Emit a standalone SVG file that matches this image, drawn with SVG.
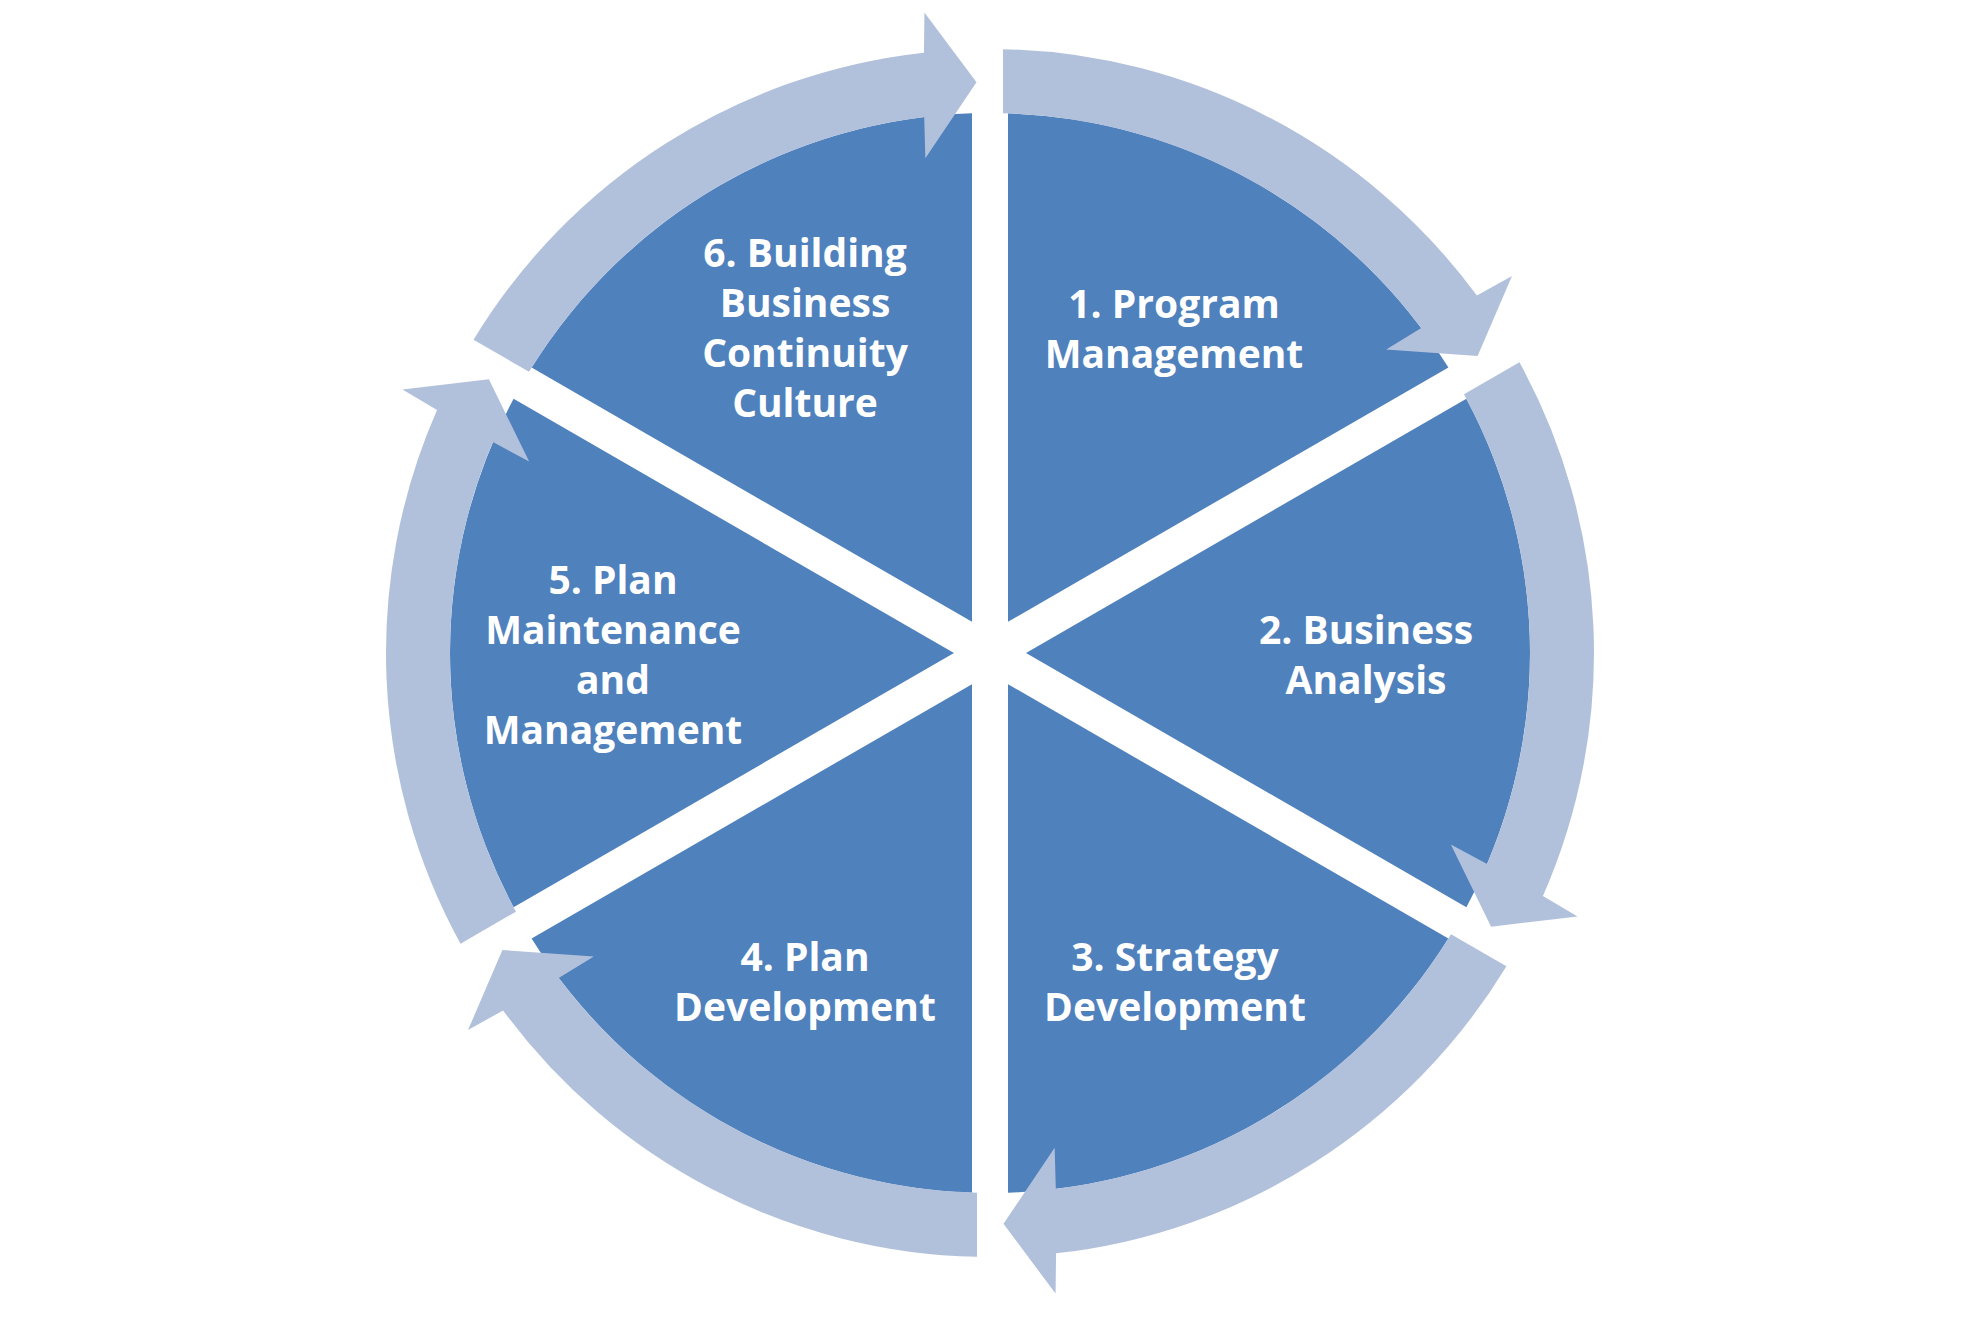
<svg xmlns="http://www.w3.org/2000/svg" xmlns:xlink="http://www.w3.org/1999/xlink" width="1980" height="1320" viewBox="0 0 1980 1320">
  <style>
    .sector { fill: #4F81BD; }
    .arrow { fill: #B2C1DB; }
    .label { fill: #FFFFFF; font-family: "Open Sans", "Liberation Sans", sans-serif; font-weight: bold; font-size: 39px; text-anchor: middle; }
  </style>
  <defs>
    <path id="sectorShape" d="M1008,621.82 L1008,113.3 A540,540 0 0 1 1448.4,367.56 Z"/>
    <path id="arrowShape" d="M1003,49.14 A604,604 0 0 1 1476.9,295.6 L1512,275.9 L1477.6,355.9 L1386.2,349.6 L1421.3,328 A540,540 0 0 0 1003,113.16 Z"/>
  </defs>
  <rect x="0" y="0" width="1980" height="1320" fill="#FFFFFF"/>

  <g id="node-1">
    <use xlink:href="#sectorShape" class="sector"/>
    <text class="label" x="1174" y="318">1. Program</text>
    <text class="label" x="1174" y="368">Management</text>
  </g>
  <g id="node-2">
    <use xlink:href="#sectorShape" class="sector" transform="rotate(60 990 653)"/>
    <text class="label" x="1366" y="644">2. Business</text>
    <text class="label" x="1366" y="694">Analysis</text>
  </g>
  <g id="node-3">
    <use xlink:href="#sectorShape" class="sector" transform="rotate(120 990 653)"/>
    <text class="label" x="1175" y="971">3. Strategy</text>
    <text class="label" x="1175" y="1021">Development</text>
  </g>
  <g id="node-4">
    <use xlink:href="#sectorShape" class="sector" transform="rotate(180 990 653)"/>
    <text class="label" x="805" y="971">4. Plan</text>
    <text class="label" x="805" y="1021">Development</text>
  </g>
  <g id="node-5">
    <use xlink:href="#sectorShape" class="sector" transform="rotate(240 990 653)"/>
    <text class="label" x="613" y="594">5. Plan</text>
    <text class="label" x="613" y="644">Maintenance</text>
    <text class="label" x="613" y="694">and</text>
    <text class="label" x="613" y="744">Management</text>
  </g>
  <g id="node-6">
    <use xlink:href="#sectorShape" class="sector" transform="rotate(300 990 653)"/>
    <text class="label" x="805" y="267">6. Building</text>
    <text class="label" x="805" y="317">Business</text>
    <text class="label" x="805" y="367">Continuity</text>
    <text class="label" x="805" y="417">Culture</text>
  </g>

  <g id="connectors">
    <use xlink:href="#arrowShape" class="arrow"/>
    <use xlink:href="#arrowShape" class="arrow" transform="rotate(60 990 653)"/>
    <use xlink:href="#arrowShape" class="arrow" transform="rotate(120 990 653)"/>
    <use xlink:href="#arrowShape" class="arrow" transform="rotate(180 990 653)"/>
    <use xlink:href="#arrowShape" class="arrow" transform="rotate(240 990 653)"/>
    <use xlink:href="#arrowShape" class="arrow" transform="rotate(300 990 653)"/>
  </g>
</svg>
